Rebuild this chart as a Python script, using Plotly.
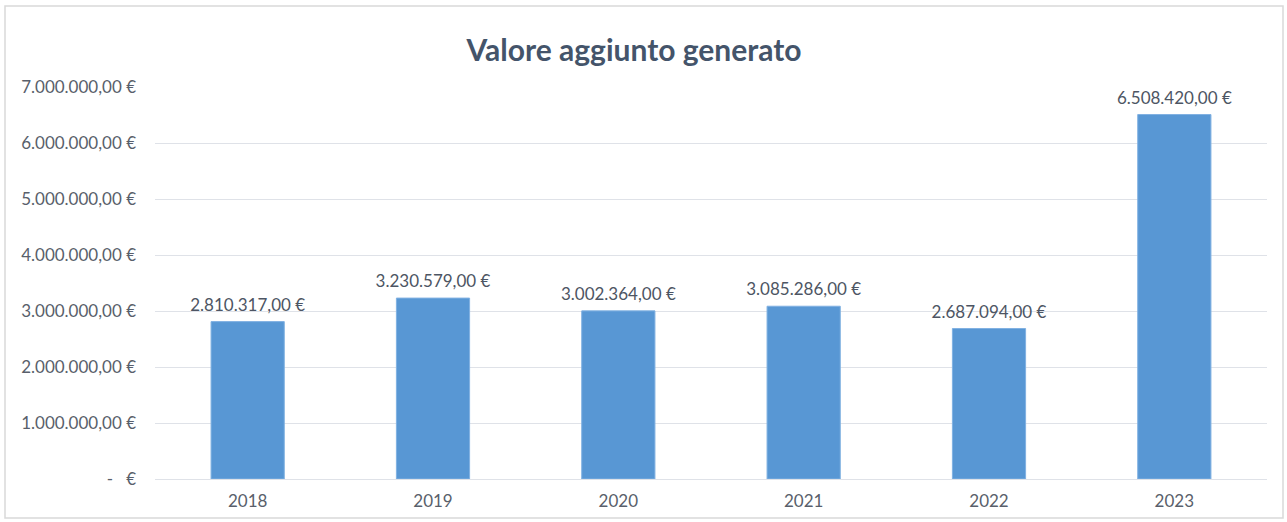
import plotly.graph_objects as go

anni = ["2018", "2019", "2020", "2021", "2022", "2023"]
valore_aggiunto = [2810317.00, 3230579.00, 3002364.00, 3085286.00, 2687094.00, 6508420.00]
tick_valori = [0, 1000000, 2000000, 3000000, 4000000, 5000000, 6000000, 7000000]


def euro(v):
    if v == 0:
        return "-   €"
    s = f"{v:,.2f}".replace(",", "X").replace(".", ",").replace("X", ".")
    return s + " €"


tick_testi = [euro(v) for v in tick_valori]
etichette = [euro(v) for v in valore_aggiunto]

FONT = "Lato, 'Open Sans', sans-serif"

fig = go.Figure()
fig.add_trace(go.Bar(
    x=anni,
    y=valore_aggiunto,
    width=0.395,
    marker=dict(color="#5897d4", line=dict(color="#80b1e2", width=1)),
    hoverinfo="x+y",
))
# data labels sitting a little above each bar
fig.add_trace(go.Scatter(
    x=anni,
    y=valore_aggiunto,
    mode="markers+text",
    marker=dict(size=9, opacity=0),
    text=etichette,
    textposition="top center",
    cliponaxis=False,
    textfont=dict(family=FONT, size=17, color="#4d5563"),
    hoverinfo="skip",
))

W, H = 1287, 522
L, R, T, B = 155, 20, 87, 43
pw, ph = W - L - R, H - T - B

fig.update_layout(
    width=W, height=H,
    margin=dict(l=L, r=R, t=T, b=B),
    paper_bgcolor="white",
    plot_bgcolor="white",
    title=dict(
        text="<b>Valore aggiunto generato</b>",
        x=634 / W, xref="container", xanchor="center",
        y=1 - 50 / H, yref="container", yanchor="middle",
        font=dict(family=FONT, size=30, color="#44546a"),
    ),
    showlegend=False,
    xaxis=dict(
        showgrid=False, showline=False, ticks="",
        ticklabelstandoff=10,
        tickfont=dict(family=FONT, size=17, color="#595f6b"),
    ),
    yaxis=dict(
        range=[0, 7000000],
        tickvals=tick_valori, ticktext=tick_testi,
        showgrid=True, gridcolor="#dfe2e8", gridwidth=1.3,
        zeroline=True, zerolinecolor="#dfe2e8", zerolinewidth=1.3,
        showline=False, ticks="", ticklen=0,
        ticklabelstandoff=18,
        tickfont=dict(family=FONT, size=17, color="#595f6b"),
    ),
    shapes=[dict(
        type="rect", xref="paper", yref="paper",
        x0=(5 - L) / pw, x1=(W - 4 - L) / pw,
        y0=-(B - 4) / ph,
        y1=1 + (T - 6) / ph,
        line=dict(color="#d9d9d9", width=1.5),
        fillcolor="rgba(0,0,0,0)",
        layer="below",
    )],
)

fig.write_html("out.html")
